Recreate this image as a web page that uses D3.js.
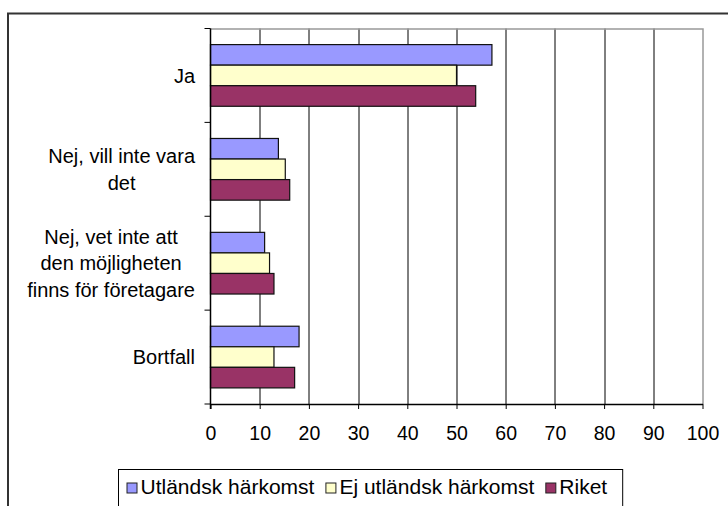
<!DOCTYPE html>
<html>
<head>
<meta charset="utf-8">
<script src="https://cdn.jsdelivr.net/npm/d3@7"></script>
<style>
  body { margin: 0; background: #fff; }
  text { font-family: "Liberation Sans", Arial, sans-serif; fill: #000; }
</style>
</head>
<body>
<div class="chart"></div>
<script>
// Kategorier (radbrutna som i originalet)
const categories = ["Ja", "Nej, vill inte vara det", "Nej, vet inte att den möjligheten finns för företagare", "Bortfall"];
const categoryLines = [
  ["Ja"],
  ["Nej, vill inte vara", "det"],
  ["Nej, vet inte att", "den möjligheten", "finns för företagare"],
  ["Bortfall"]
];

// Serier
const seriesNames = ["Utländsk härkomst", "Ej utländsk härkomst", "Riket"];
const utlandsk = [57.2, 13.8, 11.0, 18.0];
const ejUtlandsk = [50.0, 15.2, 12.0, 12.9];
const riket = [53.9, 16.1, 12.9, 17.1];
const colors = ["#9999ff", "#ffffcc", "#993366"];

// X-axelns ticks
const xTicks = [0, 10, 20, 30, 40, 50, 60, 70, 80, 90, 100];

const W = 728, H = 506;
const margin = { top: 28.5, right: 26, bottom: 102, left: 210.5 };
const width = 702.5 - margin.left;
const height = 404 - margin.top;

const svg = d3.select(".chart").append("svg")
  .attr("width", W)
  .attr("height", H);

// Ramen runt hela diagrammet (fortsätter utanför bilden)
svg.append("rect")
  .attr("x", 8).attr("y", 13.5)
  .attr("width", 760).attr("height", 560)
  .attr("fill", "none")
  .attr("stroke", "#333")
  .attr("stroke-width", 2);

const g = svg.append("g")
  .attr("transform", "translate(" + margin.left + "," + margin.top + ")");

const x = d3.scaleLinear().domain([0, 100]).range([0, width]);
const y = d3.scaleBand().domain(categories).range([0, height])
  .paddingInner(0.343).paddingOuter(0.1715);
const ySub = d3.scaleBand().domain(seriesNames).range([0, y.bandwidth()]);

// Stödlinjer
g.selectAll(".grid")
  .data(xTicks.filter((d) => d > 0 && d < 100))
  .enter().append("line")
  .attr("x1", (d) => Math.round(x(d)) + 0.5)
  .attr("x2", (d) => Math.round(x(d)) + 0.5)
  .attr("y1", 0).attr("y2", height)
  .attr("stroke", "#000");

// Ritytans kant upptill och till höger
g.append("path")
  .attr("d", "M0,0.5H" + (Math.round(x(100)) + 0.5) + "V" + height)
  .attr("fill", "none")
  .attr("stroke", "#999")
  .attr("stroke-width", 1.5);

// Staplar
const seriesData = [utlandsk, ejUtlandsk, riket];
seriesData.forEach((vals, s) => {
  g.selectAll(".bar" + s)
    .data(vals)
    .enter().append("rect")
    .attr("x", x(0))
    .attr("y", (d, i) => y(categories[i]) + ySub(seriesNames[s]))
    .attr("width", (d) => x(d) - x(0))
    .attr("height", ySub.bandwidth())
    .attr("fill", colors[s])
    .attr("stroke", "#111")
    .attr("stroke-width", 1.2);
});

// X-axel
const xAxis = g.append("g")
  .attr("transform", "translate(0," + height + ")")
  .call(d3.axisBottom(x).tickValues(xTicks).tickSize(5).tickSizeOuter(0));
xAxis.select(".domain").attr("stroke", "#000").attr("stroke-width", 1.5);
xAxis.selectAll(".tick line").attr("stroke", "#000");
xAxis.selectAll(".tick text")
  .attr("y", 29)
  .attr("dy", "0.35em")
  .style("font-size", "19.5px")
  .style("font-family", "'Liberation Sans', Arial, sans-serif");

// Y-axel med ticks mellan kategorierna
const step = y.step();
const y0 = y(categories[0]) - y.paddingInner() * step / 2;
const bounds = d3.range(categories.length + 1).map((i) => y0 + i * step);
g.append("line")
  .attr("x1", 0).attr("x2", 0)
  .attr("y1", 0).attr("y2", height + 5)
  .attr("stroke", "#000").attr("stroke-width", 1.5);
g.selectAll(".ytick")
  .data(bounds)
  .enter().append("line")
  .attr("x1", -6).attr("x2", 0)
  .attr("y1", (d) => d).attr("y2", (d) => d)
  .attr("stroke", "#000");

// Kategorietiketter: blocket högerjusterat, raderna centrerade
const lineH = 26.7;
categoryLines.forEach((lines, i) => {
  const cy = y(categories[i]) + y.bandwidth() / 2;
  const grp = g.append("g");
  const texts = grp.selectAll("text")
    .data(lines)
    .enter().append("text")
    .attr("text-anchor", "middle")
    .style("font-size", "20px")
    .attr("y", (d, k) => cy + (k - (lines.length - 1) / 2) * lineH)
    .attr("dy", "0.36em")
    .text((d) => d);
  let maxW = 0;
  texts.each(function () { maxW = Math.max(maxW, this.getComputedTextLength()); });
  texts.attr("x", -15.5 - maxW / 2);
});

// Teckenförklaring
const legend = svg.append("g");
const legBox = legend.append("rect")
  .attr("x", 118.5).attr("y", 469.5)
  .attr("height", 60)
  .attr("fill", "#fff")
  .attr("stroke", "#000");
let lx = 127;
seriesNames.forEach((name, s) => {
  legend.append("rect")
    .attr("x", lx).attr("y", 483)
    .attr("width", 10).attr("height", 10)
    .attr("fill", colors[s])
    .attr("stroke", "#222");
  const t = legend.append("text")
    .attr("x", lx + 13.5).attr("y", 494)
    .style("font-size", "21px")
    .text(name);
  lx += 13.5 + t.node().getComputedTextLength() + 11.5;
});
legBox.attr("width", lx - 118.5 + 4);
</script>
</body>
</html>
